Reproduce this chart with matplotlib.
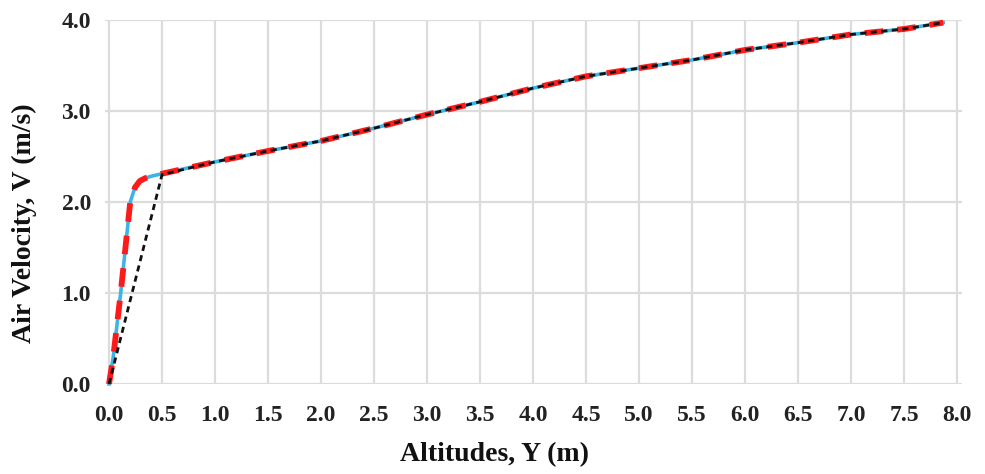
import numpy as np
import matplotlib.pyplot as plt

# measured profile: altitude (m) vs air velocity (m/s)
alt_fit = [0.0, 0.04, 0.11, 0.20, 0.245, 0.29, 0.34, 0.39, 0.5,
           1.0, 1.5, 2.0, 2.5, 3.0, 3.5, 4.0, 4.5, 5.0, 5.5, 6.0, 6.5, 7.0, 7.5, 7.87]
vel_fit = [0.0, 0.30, 1.00, 2.00, 2.16, 2.23, 2.26, 2.28, 2.31,
           2.44, 2.56, 2.67, 2.81, 2.96, 3.10, 3.25, 3.38, 3.47, 3.56, 3.67, 3.75, 3.84, 3.90, 3.97]

# simplified (piecewise) profile
alt_simple = [0.0, 0.5, 1.0, 1.5, 2.0, 2.5, 3.0, 3.5, 4.0, 4.5, 5.0, 5.5, 6.0, 6.5, 7.0, 7.5, 7.87]
vel_simple = [0.0, 2.30, 2.44, 2.56, 2.67, 2.81, 2.96, 3.10, 3.25, 3.38, 3.47, 3.56, 3.67, 3.75, 3.84, 3.90, 3.97]

xticks = np.arange(0, 8.01, 0.5)
yticks = np.arange(0, 4.01, 1.0)

plt.rcParams['font.family'] = ['Liberation Serif', 'DejaVu Serif']

fig = plt.figure(figsize=(9.85, 4.74), dpi=100)
ax = fig.add_axes([0.1064, 0.19, 0.8706, 0.768])

ax.plot(alt_fit, vel_fit, color='#3cb4e8', lw=2.6, solid_joinstyle='round', clip_on=False, zorder=3)
ax.plot(alt_fit, vel_fit, color='#ff1a1a', lw=4.2, dashes=(3.2, 2.4), solid_joinstyle='round',
        dash_joinstyle='round', clip_on=False, zorder=4)
ax.plot(alt_simple, vel_simple, color='#111111', lw=2.0, dashes=(2.2, 1.6), clip_on=False, zorder=5)

ax.set_xlim(-0.04, 8.05)
ax.set_ylim(0, 4)
ax.set_xticks(xticks)
ax.set_yticks(yticks)
ax.set_xticklabels([f'{v:.1f}' for v in xticks])
ax.set_yticklabels([f'{v:.1f}' for v in yticks])
ax.grid(True, color='#dcdcdc', lw=1.6)
ax.set_axisbelow(True)
for s in ax.spines.values():
    s.set_visible(False)
ax.tick_params(length=0, labelsize=17)
ax.tick_params(axis='x', pad=15)
ax.tick_params(axis='y', pad=10)
for lab in ax.get_xticklabels() + ax.get_yticklabels():
    lab.set_fontweight('bold')
    lab.set_color('#222222')

# axis titles placed in figure pixels (985 x 474)
fig.text(495 / 985, 1 - 455 / 474, 'Altitudes, Y (m)', fontsize=20, fontweight='bold',
         color='#111111', ha='center', va='center')
fig.text(24 / 985, 1 - 223 / 474, 'Air Velocity, V (m/s)', fontsize=20, fontweight='bold',
         color='#111111', ha='center', va='center', rotation=90)

fig.savefig('out.png', dpi=100, facecolor='white')
